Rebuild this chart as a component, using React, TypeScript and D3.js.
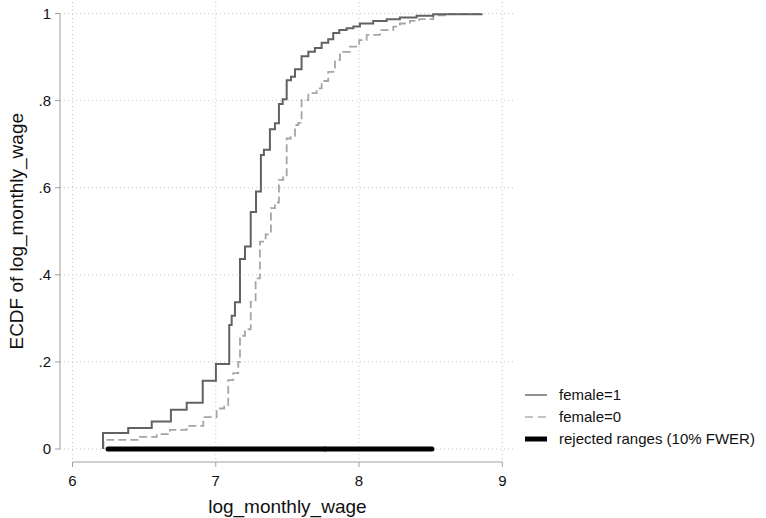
import React from 'react'
import * as d3 from 'd3'

// ECDF steps (log wage, cumulative share)
const wageFemale1 = [6.213, 6.213, 6.389, 6.553, 6.687, 6.797, 6.909, 7.001, 7.094, 7.111, 7.134, 7.169, 7.204, 7.244, 7.281, 7.315, 7.336, 7.378, 7.413, 7.441, 7.467, 7.495, 7.525, 7.553, 7.599, 7.646, 7.692, 7.739, 7.785, 7.82, 7.862, 7.913, 7.96, 8.006, 8.099, 8.193, 8.285, 8.402, 8.518, 8.856]
const ecdfFemale1 = [0, 0.037, 0.048, 0.063, 0.09, 0.106, 0.157, 0.195, 0.285, 0.306, 0.337, 0.436, 0.465, 0.544, 0.591, 0.675, 0.687, 0.734, 0.748, 0.792, 0.803, 0.847, 0.855, 0.872, 0.902, 0.912, 0.921, 0.933, 0.941, 0.955, 0.962, 0.966, 0.97, 0.977, 0.983, 0.987, 0.991, 0.995, 0.998, 1.0]

const wageFemale0 = [6.216, 6.216, 6.471, 6.588, 6.68, 6.797, 6.913, 7.006, 7.059, 7.087, 7.122, 7.157, 7.169, 7.204, 7.244, 7.278, 7.308, 7.348, 7.385, 7.413, 7.441, 7.471, 7.495, 7.523, 7.553, 7.576, 7.599, 7.646, 7.704, 7.739, 7.785, 7.832, 7.867, 7.937, 8.001, 8.053, 8.146, 8.239, 8.285, 8.355, 8.421, 8.518, 8.611, 8.856]
const ecdfFemale0 = [0, 0.021, 0.028, 0.034, 0.044, 0.053, 0.073, 0.093, 0.101, 0.158, 0.174, 0.2, 0.26, 0.275, 0.338, 0.392, 0.476, 0.493, 0.553, 0.566, 0.618, 0.625, 0.713, 0.719, 0.744, 0.749, 0.801, 0.817, 0.828, 0.845, 0.866, 0.893, 0.912, 0.924, 0.939, 0.951, 0.962, 0.97, 0.977, 0.983, 0.987, 0.996, 0.999, 1.0]

// rejected ranges (10% FWER), as [from, to]
const rejectedRanges = [[6.248, 7.762], [7.762, 8.509]]

const xTicks = [6, 7, 8, 9]
const xTickLabels = ['6', '7', '8', '9']
const yTicks = [0, 0.2, 0.4, 0.6, 0.8, 1]
const yTickLabels = ['0', '.2', '.4', '.6', '.8', '1']

const legendLabels = ['female=1', 'female=0', 'rejected ranges (10% FWER)']

const W = 766
const H = 518
const FONT = '"Liberation Sans", Arial, Helvetica, sans-serif'

const App = () => {
  const x = d3.scaleLinear().domain([6, 9]).range([72.5, 502.3])
  const y = d3.scaleLinear().domain([0, 1]).range([449, 13.5])

  const stepLine = d3
    .line<number[]>()
    .x((d) => x(d[0]))
    .y((d) => y(d[1]))
    .curve(d3.curveStepAfter)

  const f1 = wageFemale1.map((w, i) => [w, ecdfFemale1[i]])
  const f0 = wageFemale0.map((w, i) => [w, ecdfFemale0[i]])

  const gridColor = '#c8c8c8'
  const axisColor = '#a0a0a0'
  const plotLeft = 60
  const plotRight = 515
  const plotTop = 2
  const plotBottom = 460

  const legendY = [395, 417, 439]

  return (
    <svg width={W} height={H} style={{ position: 'absolute', left: 0, top: 0, background: '#fff' }} fontFamily={FONT}>
      <rect width={W} height={H} fill='#fff' />
      {/* grid */}
      <g stroke={gridColor} strokeWidth={1} strokeDasharray='1,3'>
        {yTicks.map((t) => (
          <line key={'gy' + t} x1={plotLeft} x2={plotRight} y1={y(t)} y2={y(t)} />
        ))}
        {xTicks.map((t) => (
          <line key={'gx' + t} x1={x(t)} x2={x(t)} y1={plotTop} y2={plotBottom} />
        ))}
      </g>

      {/* y axis */}
      <line x1={60} x2={60} y1={y(1)} y2={y(0)} stroke={axisColor} strokeWidth={1} />
      {yTicks.map((t, i) => (
        <g key={'yt' + t}>
          <line x1={55} x2={60} y1={y(t)} y2={y(t)} stroke={axisColor} />
          <text x={51} y={y(t) + 5} textAnchor='end' fontSize={15} fill='#111'>
            {yTickLabels[i]}
          </text>
        </g>
      ))}
      <text transform={`translate(23, ${(y(0) + y(1)) / 2}) rotate(-90)`} textAnchor='middle' fontSize={19} fill='#111'>
        ECDF of log_monthly_wage
      </text>

      {/* x axis */}
      <line x1={x(6)} x2={x(9)} y1={462} y2={462} stroke={axisColor} strokeWidth={1} />
      {xTicks.map((t, i) => (
        <g key={'xt' + t}>
          <line x1={x(t)} x2={x(t)} y1={462} y2={467} stroke={axisColor} />
          <text x={x(t)} y={486} textAnchor='middle' fontSize={15} fill='#111'>
            {xTickLabels[i]}
          </text>
        </g>
      ))}
      <text x={(x(6) + x(9)) / 2} y={513} textAnchor='middle' fontSize={19} fill='#111'>
        log_monthly_wage
      </text>

      {/* ECDF curves */}
      <path d={stepLine(f0) || ''} fill='none' stroke='#a6a6a6' strokeWidth={1.8} strokeDasharray='8,4' />
      <path d={stepLine(f1) || ''} fill='none' stroke='#626262' strokeWidth={2} />

      {/* rejected ranges */}
      {rejectedRanges.map((r, i) => (
        <line key={'rr' + i} x1={x(r[0])} x2={x(r[1])} y1={y(0)} y2={y(0)} stroke='#000' strokeWidth={5} strokeLinecap='round' />
      ))}

      {/* legend */}
      <line x1={525} x2={547} y1={legendY[0]} y2={legendY[0]} stroke='#6e6e6e' strokeWidth={1.5} />
      <line x1={525} x2={547} y1={legendY[1]} y2={legendY[1]} stroke='#b0b0b0' strokeWidth={1.5} strokeDasharray='8,5' />
      <line x1={525} x2={547} y1={legendY[2]} y2={legendY[2]} stroke='#000' strokeWidth={5} />
      {legendLabels.map((l, i) => (
        <text key={l} x={559} y={legendY[i] + 5} fontSize={15} fill='#111'>
          {l}
        </text>
      ))}
    </svg>
  )
}

export default App
